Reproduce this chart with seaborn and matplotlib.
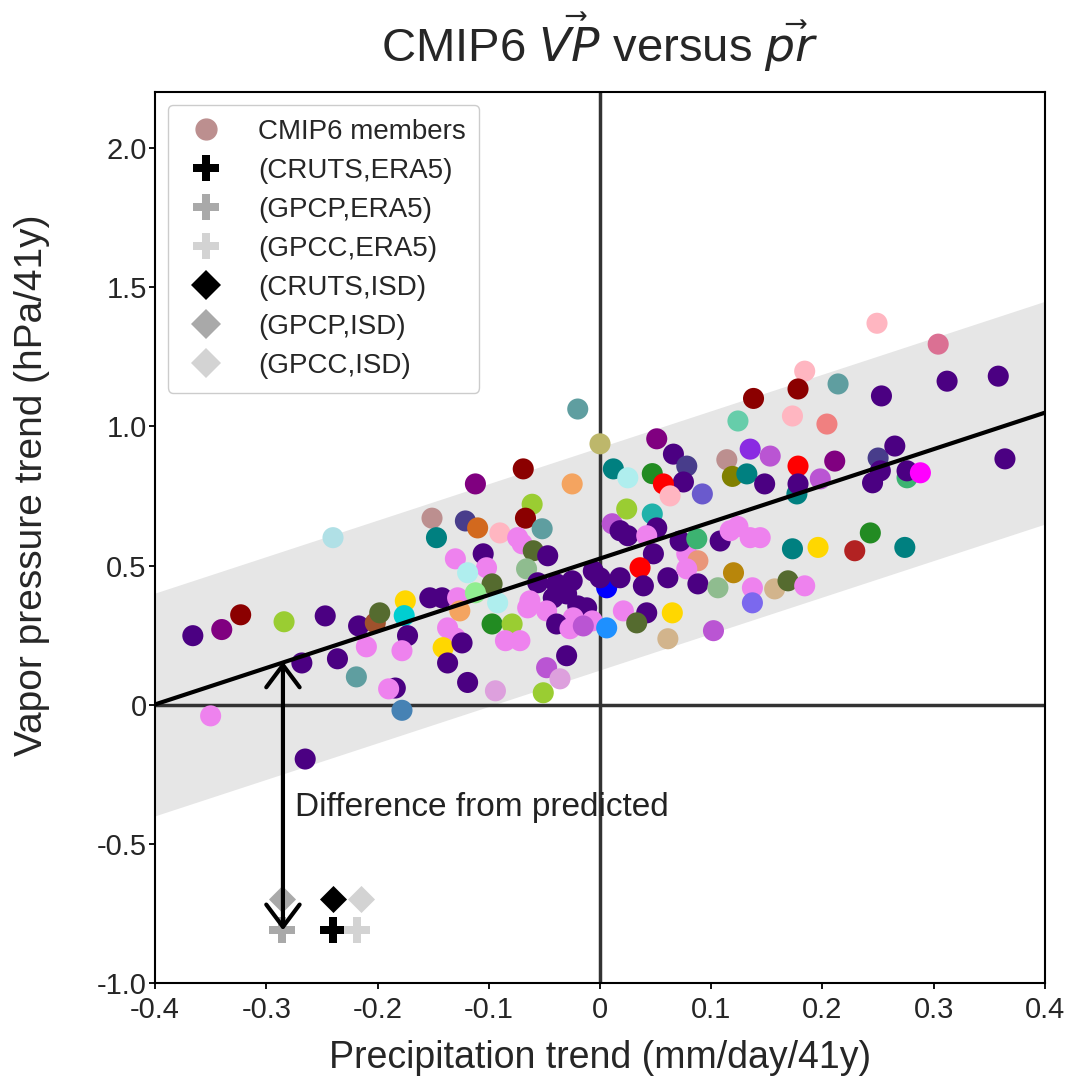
import numpy as np
import pandas as pd
import matplotlib
matplotlib.use("Agg")
from matplotlib import pyplot as plt
from matplotlib.lines import Line2D
import seaborn as sns

sns.set_style("ticks")
plt.rcParams['font.family'] = ['Liberation Sans', 'DejaVu Sans']

# CMIP6 members: precipitation trend, vapor pressure trend, colour
pr_trend = [
    -0.366, -0.340, -0.323, -0.284, -0.247, -0.217, -0.202, -0.198, -0.175, -0.176,
    -0.153, -0.173, -0.210, -0.178, -0.137, -0.268, -0.236, -0.219, -0.184, -0.190,
    -0.178, -0.350, -0.265, -0.151, -0.147, -0.240,
    -0.020, 0.000, 0.051, -0.069, -0.112, -0.025, 0.012, 0.025, 0.047, 0.066,
    0.078, 0.075, 0.057, 0.063, 0.092, 0.114, 0.119, -0.061, -0.121, -0.110,
    -0.090, -0.067, -0.052, -0.074, -0.070, -0.060, -0.047, -0.066, -0.130, -0.105,
    -0.102, -0.119, -0.097, -0.142, -0.128, -0.112, -0.092, -0.126, -0.056, -0.039,
    -0.025, -0.030, -0.042, -0.063, -0.065, -0.048, -0.020, -0.012, -0.024, -0.007,
    -0.039, -0.027, -0.015, -0.006, 0.006, 0.006, -0.130, -0.141, -0.124, -0.137,
    -0.119, -0.094, -0.097, -0.079, -0.085, -0.072, -0.030, -0.048, -0.036, -0.051,
    0.011, 0.018, 0.025, 0.024, 0.047, 0.051, 0.042, 0.048, 0.036, 0.039,
    0.018, 0.000, 0.021, 0.042, 0.033, 0.065, 0.061, 0.061, 0.078, 0.088,
    0.078, 0.088, 0.072, 0.087, 0.106, 0.120, 0.102, 0.108, 0.117, 0.135,
    0.144, 0.124,
    0.304, 0.249, 0.184, 0.138, 0.178, 0.214, 0.253, 0.312, 0.358, 0.124,
    0.173, 0.204, 0.135, 0.153, 0.132, 0.148, 0.178, 0.177, 0.178, 0.198,
    0.211, 0.250, 0.265, 0.252, 0.245, 0.276, 0.276, 0.288, 0.364, 0.173,
    0.196, 0.229, 0.243, 0.274, 0.137, 0.137, 0.157, 0.169, 0.184,
]
vp_trend = [
    0.248, 0.270, 0.323, 0.298, 0.319, 0.283, 0.294, 0.330, 0.373, 0.320,
    0.384, 0.248, 0.208, 0.194, 0.276, 0.150, 0.165, 0.100, 0.060, 0.057,
    -0.020, -0.040, -0.195, 0.670, 0.600, 0.600,
    1.062, 0.937, 0.955, 0.847, 0.793, 0.793, 0.847, 0.815, 0.830, 0.900,
    0.857, 0.800, 0.793, 0.750, 0.757, 0.880, 0.820, 0.720, 0.660, 0.635,
    0.617, 0.670, 0.632, 0.600, 0.578, 0.553, 0.535, 0.488, 0.524, 0.542,
    0.492, 0.474, 0.434, 0.384, 0.384, 0.402, 0.366, 0.337, 0.438, 0.434,
    0.445, 0.398, 0.384, 0.373, 0.348, 0.337, 0.355, 0.348, 0.312, 0.301,
    0.290, 0.273, 0.283, 0.480, 0.420, 0.276, 0.240, 0.205, 0.222, 0.150,
    0.080, 0.050, 0.290, 0.290, 0.230, 0.230, 0.176, 0.133, 0.093, 0.043,
    0.650, 0.625, 0.607, 0.703, 0.685, 0.635, 0.607, 0.542, 0.492, 0.427,
    0.456, 0.456, 0.337, 0.330, 0.294, 0.330, 0.237, 0.456, 0.542, 0.517,
    0.488, 0.434, 0.588, 0.596, 0.420, 0.474, 0.266, 0.588, 0.625, 0.600,
    0.600, 0.640,
    1.295, 1.370, 1.198, 1.100, 1.134, 1.152, 1.109, 1.162, 1.180, 1.019,
    1.037, 1.008, 0.918, 0.893, 0.829, 0.793, 0.857, 0.757, 0.793, 0.811,
    0.875, 0.886, 0.929, 0.840, 0.797, 0.815, 0.840, 0.833, 0.883, 0.560,
    0.565, 0.553, 0.617, 0.565, 0.420, 0.366, 0.416, 0.445, 0.427,
]
member_color = [
    "indigo", "purple", "darkred", "yellowgreen", "indigo", "indigo", "sienna", "darkolivegreen", "gold", "darkturquoise",
    "indigo", "indigo", "violet", "violet", "violet", "indigo", "indigo", "cadetblue", "indigo", "violet",
    "steelblue", "violet", "indigo", "rosybrown", "teal", "powderblue",
    "cadetblue", "darkkhaki", "purple", "darkred", "purple", "sandybrown", "teal", "paleturquoise", "forestgreen", "indigo",
    "darkslateblue", "indigo", "red", "lightpink", "slateblue", "rosybrown", "olive", "yellowgreen", "darkslateblue", "chocolate",
    "lightpink", "darkred", "cadetblue", "violet", "violet", "darkolivegreen", "indigo", "darkseagreen", "violet", "indigo",
    "violet", "paleturquoise", "darkolivegreen", "indigo", "violet", "lightgreen", "paleturquoise", "sandybrown", "indigo", "indigo",
    "indigo", "indigo", "indigo", "violet", "violet", "violet", "indigo", "indigo", "violet", "violet",
    "indigo", "violet", "mediumorchid", "indigo", "blue", "dodgerblue", "violet", "gold", "indigo", "indigo",
    "indigo", "plum", "forestgreen", "yellowgreen", "violet", "violet", "indigo", "mediumorchid", "plum", "yellowgreen",
    "mediumorchid", "indigo", "indigo", "yellowgreen", "lightseagreen", "indigo", "violet", "indigo", "red", "indigo",
    "indigo", "indigo", "violet", "indigo", "darkolivegreen", "gold", "tan", "indigo", "violet", "darksalmon",
    "violet", "indigo", "indigo", "mediumseagreen", "darkseagreen", "darkgoldenrod", "mediumorchid", "indigo", "violet", "violet",
    "violet", "violet",
    "palevioletred", "lightpink", "lightpink", "darkred", "darkred", "cadetblue", "indigo", "indigo", "indigo", "mediumaquamarine",
    "lightpink", "lightcoral", "blueviolet", "mediumorchid", "teal", "indigo", "red", "teal", "indigo", "mediumorchid",
    "purple", "darkslateblue", "indigo", "indigo", "indigo", "mediumseagreen", "indigo", "magenta", "indigo", "teal",
    "gold", "firebrick", "forestgreen", "teal", "violet", "mediumslateblue", "tan", "darkolivegreen", "violet",
]

# observational pairs
obs_labels = ["(CRUTS,ERA5)", "(GPCP,ERA5)", "(GPCC,ERA5)", "(CRUTS,ISD)", "(GPCP,ISD)", "(GPCC,ISD)"]
obs_pr = [-0.240, -0.286, -0.218, -0.240, -0.286, -0.215]
obs_vp = [-0.810, -0.810, -0.810, -0.697, -0.697, -0.697]
obs_marker = ["P", "P", "P", "D", "D", "D"]
obs_color = ["black", "darkgray", "lightgray", "black", "darkgray", "lightgray"]

# regression line and spread
fit_slope = 1.31
fit_intercept = 0.525
fit_spread = 0.40

xticks = [-0.4, -0.3, -0.2, -0.1, 0.0, 0.1, 0.2, 0.3, 0.4]
xticklabels = ["-0.4", "-0.3", "-0.2", "-0.1", "0", "0.1", "0.2", "0.3", "0.4"]
yticks = [-1.0, -0.5, 0.0, 0.5, 1.0, 1.5, 2.0]
yticklabels = ["-1.0", "-0.5", "0", "0.5", "1.0", "1.5", "2.0"]

df = pd.DataFrame({"pr": pr_trend, "vp": vp_trend, "color": member_color})

fig = plt.figure(figsize=(10.72, 10.84), dpi=100)
ax = fig.add_axes([0.1446, 0.093, 0.8302, 0.822])

xfit = np.array([-0.4, 0.4])
yfit = fit_slope * xfit + fit_intercept
ax.fill_between(xfit, yfit - fit_spread, yfit + fit_spread, color="#e6e6e6", lw=0, zorder=0)
ax.axhline(0, color="#333333", lw=2.5, zorder=1)
ax.axvline(0, color="#333333", lw=2.5, zorder=1)

palette = {c: c for c in df["color"].unique()}
sns.scatterplot(data=df, x="pr", y="vp", hue="color", palette=palette, s=230,
                linewidth=0, legend=False, ax=ax, zorder=2)
ax.plot(xfit, yfit, color="black", lw=3, zorder=3)

for x, y, m, c in zip(obs_pr, obs_vp, obs_marker, obs_color):
    size = 360 if m == "P" else 190
    sns.scatterplot(x=[x], y=[y], marker=m, color=c, s=size, linewidth=0, ax=ax, zorder=4)

ax.annotate("", xy=(-0.285, -0.81), xytext=(-0.285, 0.155),
            arrowprops=dict(arrowstyle="<->,head_length=0.4,head_width=0.3",
                            lw=3, color="black", mutation_scale=40, shrinkA=0, shrinkB=0),
            zorder=5)
ax.text(-0.274, -0.37, "Difference from predicted", fontsize=24, va="center", ha="left",
        color="#222222")

ax.set_xlim(-0.4, 0.4)
ax.set_ylim(-1.0, 2.2)
ax.set_xticks(xticks)
ax.set_xticklabels(xticklabels)
ax.set_yticks(yticks)
ax.set_yticklabels(yticklabels)
ax.tick_params(labelsize=21, length=4, width=1.3, color="black", pad=2)
ax.tick_params(axis="x", pad=5)
for sp in ax.spines.values():
    sp.set_linewidth(1.5)
    sp.set_color("black")

ax.set_xlabel("Precipitation trend (mm/day/41y)", fontsize=27, labelpad=12)
ax.set_ylabel("Vapor pressure trend (hPa/41y)", fontsize=28)
ax.yaxis.set_label_coords(-0.118, 0.559)
ax.set_title(r"CMIP6 $\vec{VP}$ versus $\vec{pr}$", fontsize=34, pad=22)

handles = [Line2D([], [], ls="none", marker="o", color="rosybrown", markersize=15)]
for m, c in zip(obs_marker, obs_color):
    ms = 19 if m == "P" else 15
    handles.append(Line2D([], [], ls="none", marker=m, color=c, markersize=ms, markeredgewidth=0))
ax.legend(handles, ["CMIP6 members"] + obs_labels, loc="upper left", fontsize=20,
          labelspacing=0.47, handlelength=1.8, handletextpad=0.95, borderpad=0.5,
          frameon=True, edgecolor="#cccccc", framealpha=1.0,
          bbox_to_anchor=(0.0, 1.0), borderaxespad=0.45)

fig.savefig("out.png", dpi=100)
